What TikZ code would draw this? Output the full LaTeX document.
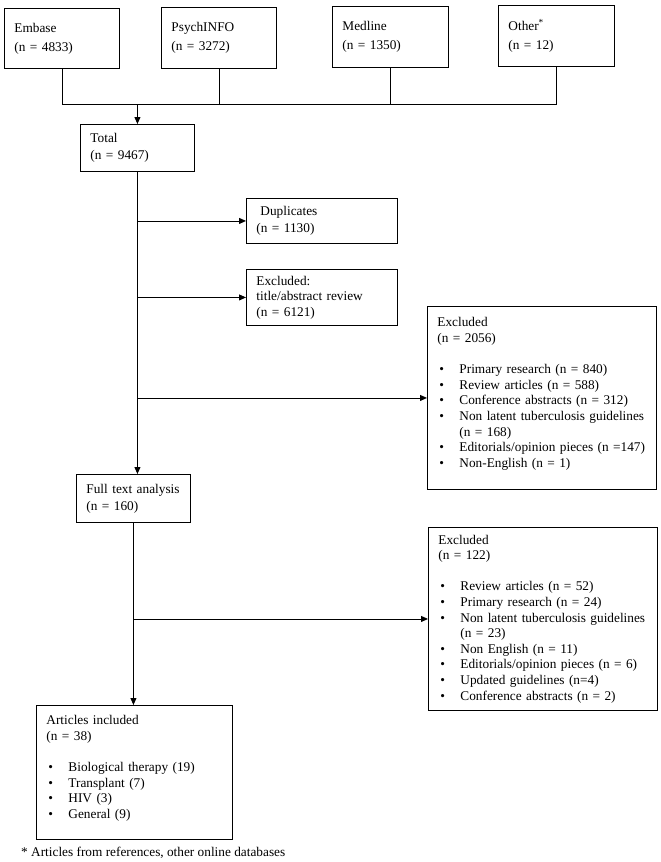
\documentclass[tikz,border=0pt]{standalone}
\usepackage{fontspec}
\setmainfont{Liberation Serif}
\usetikzlibrary{arrows.meta}
\newcommand{\bul}{\hspace*{2pt}\makebox[20pt][l]{\textbullet}}
\newcommand{\cont}{\hspace*{22pt}}
\tikzset{
	box/.style={draw, line width=0.9pt, anchor=north west, align=left, inner xsep=10pt, inner ysep=2pt, font=\fontsize{13.3}{15.6}\selectfont},
	srcbox/.style={box, font=\fontsize{13.3}{19}\selectfont},
	midbox/.style={box, font=\fontsize{13.3}{17}\selectfont},
	flow/.style={line width=0.9pt},
	>={Triangle[length=7pt,width=6pt]}
}
\begin{document}
\begin{tikzpicture}[x=1pt, y=-1pt]
					\useasboundingbox (0,0) rectangle (661,862);
					\node[srcbox, text width=95pt, minimum height=60pt] (embase) at (4,8) {Embase\\(n = 4833)};
					\node[srcbox, text width=95pt, minimum height=61pt] (psych) at (161,7) {PsychINFO\\(n = 3272)};
					\node[srcbox, text width=96pt, minimum height=61pt] (medline) at (332,6) {Medline\\(n = 1350)};
					\node[srcbox, text width=96pt, minimum height=61pt] (other) at (498,5) {Other\textsuperscript{*}\\(n = 12)};
					\node[midbox, text width=94pt, minimum height=47pt] (total) at (80,124) {Total\\(n = 9467)};
					\node[midbox, text width=131pt, minimum height=45pt] (dup) at (246,198) {\hspace*{4pt}Duplicates\\(n = 1130)};
					\node[box, text width=131pt, minimum height=56pt] (title) at (246,269) {Excluded:\\title/abstract review\\(n = 6121)};
					\node[box, text width=209pt, minimum height=183pt] (excla) at (427,306) {Excluded\\(n = 2056)\\[15.6pt]
						\bul Primary research (n = 840)\\
						\bul Review articles (n = 588)\\
						\bul Conference abstracts (n = 312)\\
						\bul Non latent tuberculosis guidelines\\
						\cont (n = 168)\\
						\bul Editorials/opinion pieces (n =147)\\
						\bul Non-English (n = 1)\vspace*{8pt}};
					\node[midbox, text width=94pt, minimum height=48pt] (full) at (76,474) {Full text analysis\\(n = 160)};
					\node[box, text width=209pt, minimum height=183pt] (exclb) at (428,527) {Excluded\\(n = 122)\\[15.6pt]
						\bul Review articles (n = 52)\\
						\bul Primary research (n = 24)\\
						\bul Non latent tuberculosis guidelines\\
						\cont (n = 23)\\
						\bul Non English (n = 11)\\
						\bul Editorials/opinion pieces (n = 6)\\
						\bul Updated guidelines (n=4)\\
						\bul Conference abstracts (n = 2)};
					\node[box, text width=176pt, minimum height=134pt] (incl) at (36,705) {Articles included\\(n = 38)\\[15.6pt]
						\bul Biological therapy (19)\\
						\bul Transplant (7)\\
						\bul HIV (3)\\
						\bul General (9)\vspace*{8pt}};
					\node[anchor=west, inner sep=0pt, font=\fontsize{13.3}{15.6}\selectfont] (note) at (21,853) {* Articles from references, other online databases};
					\coordinate (bus) at (0,104);
					\draw[flow] (embase.south) -- (embase.south |- bus) -- (other.south |- bus) -- (other.south);
					\draw[flow] (psych.south) -- (psych.south |- bus);
					\draw[flow] (medline.south) -- (medline.south |- bus);
					\draw[flow, ->] (total.north |- bus) -- (total.north);
					\draw[flow, ->] (total.south) -- (total.south |- full.north);
					\draw[flow, ->] (total.south |- dup.west) -- (dup.west);
					\draw[flow, ->] (total.south |- title.west) -- (title.west);
					\draw[flow, ->] (total.south |- excla.west) -- (excla.west);
					\draw[flow, ->] (full.south) -- (full.south |- incl.north);
					\draw[flow, ->] (full.south |- exclb.west) -- (exclb.west);
			\end{tikzpicture}
\end{document}
